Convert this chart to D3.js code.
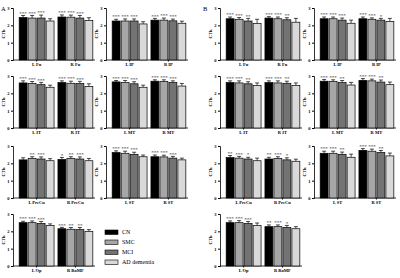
<!DOCTYPE html>
<html><head><meta charset="utf-8">
<script src="https://cdn.jsdelivr.net/npm/d3@7"></script>
<style>body{margin:0;background:#fff}svg{display:block}text{font-family:"Liberation Serif","DejaVu Serif",serif}</style>
</head><body><svg id="c" width="400" height="278"></svg>
<script>
const groups = ["CN","SMC","MCI","AD dementia"];
const groupColors = ["#000000","#a6a6a6","#737373","#d9d9d9"];
const yTicks = [0,1,2,3];
const regionPairs = [
  ["L Fu","R Fu"],["L IP","R IP"],
  ["L IT","R IT"],["L MT","R MT"],
  ["L PreCu","R PreCu"],["L ST","R ST"],
  ["L Op","R RoMF"]
];
// A: means per panel [region][group]
const meansA = [
  [[2.45,2.42,2.42,2.25],[2.48,2.47,2.42,2.28]],
  [[2.25,2.25,2.25,2.08],[2.30,2.30,2.26,2.12]],
  [[2.60,2.56,2.50,2.35],[2.62,2.58,2.57,2.40]],
  [[2.66,2.62,2.55,2.35],[2.70,2.68,2.62,2.42]],
  [[2.20,2.28,2.25,2.15],[2.22,2.28,2.25,2.15]],
  [[2.62,2.58,2.52,2.38],[2.38,2.37,2.30,2.20]],
  [[2.50,2.50,2.45,2.33],[2.15,2.12,2.10,2.00]]
];
const errA = [
  [[0.12,0.15,0.17,0.13],[0.12,0.12,0.15,0.16]],
  [[0.10,0.12,0.12,0.13],[0.10,0.12,0.10,0.12]],
  [[0.12,0.12,0.13,0.12],[0.10,0.12,0.12,0.15]],
  [[0.08,0.12,0.12,0.12],[0.08,0.10,0.10,0.15]],
  [[0.12,0.10,0.12,0.12],[0.12,0.10,0.12,0.13]],
  [[0.10,0.12,0.12,0.10],[0.10,0.10,0.10,0.10]],
  [[0.08,0.10,0.12,0.10],[0.08,0.10,0.12,0.10]]
];
const starsA = [
  [["***","***","***",""],["***","***","***",""]],
  [["***","***","***",""],["***","***","***",""]],
  [["***","***","***",""],["***","***","***",""]],
  [["***","***","***",""],["***","***","***",""]],
  [["","**","***",""],["*","**","***",""]],
  [["***","***","***",""],["***","***","***",""]],
  [["***","***","***",""],["***","**","**",""]]
];
const meansB = [
  [[2.38,2.35,2.25,2.10],[2.42,2.38,2.32,2.18]],
  [[2.38,2.38,2.30,2.12],[2.38,2.35,2.30,2.22]],
  [[2.62,2.60,2.55,2.45],[2.62,2.60,2.58,2.45]],
  [[2.70,2.68,2.62,2.48],[2.75,2.72,2.65,2.50]],
  [[2.33,2.30,2.25,2.15],[2.25,2.28,2.20,2.12]],
  [[2.58,2.58,2.52,2.35],[2.75,2.70,2.62,2.43]],
  [[2.50,2.50,2.45,2.33],[2.27,2.27,2.22,2.15]]
];
const errB = [
  [[0.10,0.10,0.15,0.25],[0.08,0.10,0.12,0.22]],
  [[0.10,0.10,0.12,0.18],[0.10,0.08,0.10,0.18]],
  [[0.10,0.12,0.12,0.15],[0.10,0.12,0.12,0.15]],
  [[0.10,0.10,0.12,0.15],[0.10,0.10,0.12,0.15]],
  [[0.12,0.10,0.10,0.15],[0.10,0.10,0.12,0.12]],
  [[0.12,0.12,0.13,0.18],[0.10,0.12,0.12,0.16]],
  [[0.10,0.12,0.12,0.15],[0.10,0.10,0.12,0.12]]
];
const starsB = [
  [["***","***","**",""],["***","***","**",""]],
  [["***","***","***",""],["***","***","*",""]],
  [["***","***","**",""],["***","***","**",""]],
  [["***","***","**",""],["***","***","**",""]],
  [["**","***","*",""],["**","***","*",""]],
  [["***","***","**",""],["***","***","**",""]],
  [["***","***","***",""],["**","***","*",""]]
];

const svg = d3.select("#c");
const colX = {A:[13,106], B:[220,314]};
const rows = [{t:8,b:60},{t:76,b:128},{t:146,b:198},{t:214,b:266}];

function panel(ax, row, regs, means, errs, stars){
  const y = d3.scaleLinear().domain([0,3]).range([row.b,row.t]);
  const x0 = d3.scaleBand().domain(regs).range([ax+5, ax+81]).paddingInner(0.1).paddingOuter(0.03);
  const x1 = d3.scaleBand().domain(groups).range([0,x0.bandwidth()]).paddingInner(0.12);
  const g = svg.append("g");
  const yAx = g.append("g").attr("transform",`translate(${ax},0)`)
    .call(d3.axisLeft(y).tickValues(yTicks).tickSize(2).tickPadding(1.5).tickFormat(d3.format("d")));
  yAx.select(".domain").attr("stroke-width",0.8);
  yAx.selectAll("text").attr("font-size",4.5).attr("font-weight","bold");
  const xAx = g.append("g").attr("transform",`translate(0,${row.b})`)
    .call(d3.axisBottom(x0).tickSize(1.5).tickPadding(1.5).tickSizeOuter(0));
  xAx.select(".domain").attr("stroke-width",0.8).attr("d",`M${ax},0H${ax+82}`);
  xAx.selectAll("text").attr("font-size",4.5).attr("font-weight","bold");
  g.append("text").attr("transform",`translate(${ax-8},${(row.t+row.b)/2}) rotate(-90)`)
    .attr("text-anchor","middle").attr("font-size",4.5).attr("font-weight","bold").text("CTh");
  regs.forEach((r,ri)=>{
    const gg = g.append("g").attr("transform",`translate(${x0(r)},0)`);
    groups.forEach((gr,gi)=>{
      const m = means[ri][gi], e = errs[ri][gi];
      const bx = x1(gr), bw = x1.bandwidth(), cx = bx+bw/2;
      gg.append("line").attr("x1",cx).attr("x2",cx).attr("y1",y(m)).attr("y2",y(m+e)).attr("stroke","#000").attr("stroke-width",0.7);
      gg.append("line").attr("x1",cx-2).attr("x2",cx+2).attr("y1",y(m+e)).attr("y2",y(m+e)).attr("stroke","#000").attr("stroke-width",0.7);
      gg.append("rect").attr("x",bx).attr("y",y(m)).attr("width",bw).attr("height",y(0)-y(m))
        .attr("fill",groupColors[gi]).attr("stroke","#000").attr("stroke-width",0.7);
      const s = stars[ri][gi];
      if(s) gg.append("text").attr("x",cx).attr("y",y(m+e)-0.8).attr("text-anchor","middle")
        .attr("font-size",5).attr("font-weight","bold").attr("fill","#555").text(s);
    });
  });
}

const panelGrid = [[0,0],[1,0],[0,1],[1,1],[0,2],[1,2],[0,3]];
panelGrid.forEach(([c,r],i)=>{
  panel(colX.A[c], rows[r], regionPairs[i], meansA[i], errA[i], starsA[i]);
  panel(colX.B[c], rows[r], regionPairs[i], meansB[i], errB[i], starsB[i]);
});
svg.append("text").attr("x",1).attr("y",11).attr("font-size",6.5).text("A");
svg.append("text").attr("x",203).attr("y",11).attr("font-size",6.5).text("B");

const leg = svg.append("g");
groups.forEach((gname,i)=>{
  const yy = 230 + i*10;
  leg.append("rect").attr("x",105).attr("y",yy).attr("width",13).attr("height",4.5)
    .attr("fill",groupColors[i]).attr("stroke","#000").attr("stroke-width",0.6);
  leg.append("text").attr("x",122).attr("y",yy+4.3).attr("font-size",6).text(gname);
});
</script></body></html>
